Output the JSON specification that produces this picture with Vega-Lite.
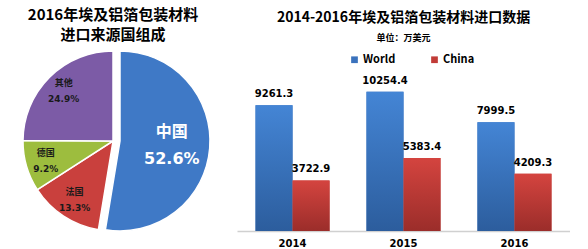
{
  "$schema": "https://vega.github.io/schema/vega-lite/v6.json",
  "padding": {"left": 0, "top": 8, "right": 0, "bottom": 0},
  "background": "white",
  "spacing": 11,
  "config": {"view": {"stroke": null}, "font": "Noto Sans CJK SC"},
  "resolve": {"scale": {"color": "independent"}, "legend": {"color": "independent"}},
  "hconcat": [
    {
      "width": 226,
      "height": 146,
      "title": {"text": ["2016年埃及铝箔包装材料", "进口来源国组成"], "fontSize": 15, "fontWeight": "bold", "lineHeight": 20, "anchor": "middle", "offset": 5, "color": "#000000", "font": "Noto Sans CJK SC"},
      "data": {"values": [
        {"country": "中国", "pct": 52.6, "label": "52.6%", "rank": 1},
        {"country": "法国", "pct": 13.3, "label": "13.3%", "rank": 2},
        {"country": "德国", "pct": 9.2, "label": "9.2%", "rank": 3},
        {"country": "其他", "pct": 24.9, "label": "24.9%", "rank": 4}
      ]},
      "encoding": {
        "theta": {"field": "pct", "type": "quantitative", "stack": true},
        "order": {"field": "rank", "type": "quantitative"}
      },
      "layer": [
        {
          "mark": {"type": "arc", "outerRadius": 90, "stroke": "white", "strokeWidth": 1.5, "xOffset": {"expr": "datum.country === '中国' ? 7 : 0"}},
          "encoding": {
            "color": {"field": "country", "type": "nominal", "scale": {"domain": ["中国", "法国", "德国", "其他"], "range": ["#3f79c6", "#c9403d", "#9dbd3e", "#7c5ba6"]}, "legend": null}
          }
        },
        {
          "mark": {"type": "text", "fontWeight": "bold", "radius": {"expr": "datum.country === '中国' ? 52 : 70"}, "dy": {"expr": "datum.country === '中国' ? -13 : -8"}, "xOffset": {"expr": "datum.country === '中国' ? 7 : 0"}},
          "encoding": {
            "text": {"field": "country"},
            "color": {"condition": {"test": "datum.country === '中国'", "value": "white"}, "value": "#1a1a1a"},
            "size": {"condition": {"test": "datum.country === '中国'", "value": 16}, "value": 9}
          }
        },
        {
          "mark": {"type": "text", "fontWeight": "bold", "font": "DejaVu Sans", "radius": {"expr": "datum.country === '中国' ? 52 : 70"}, "dy": {"expr": "datum.country === '中国' ? 14 : 8"}, "xOffset": {"expr": "datum.country === '中国' ? 7 : 0"}},
          "encoding": {
            "text": {"field": "label"},
            "color": {"condition": {"test": "datum.country === '中国'", "value": "white"}, "value": "#1a1a1a"},
            "size": {"condition": {"test": "datum.country === '中国'", "value": 16}, "value": 9}
          }
        }
      ]
    },
    {
      "width": 333,
      "height": 163,
      "title": {"text": "2014-2016年埃及铝箔包装材料进口数据", "subtitle": "单位：万美元", "fontSize": 14, "fontWeight": "bold", "subtitleFontSize": 9, "subtitleFontWeight": "bold", "subtitleColor": "#000000", "subtitlePadding": 9, "anchor": "middle", "offset": 11, "color": "#000000", "font": "Noto Sans CJK SC", "subtitleFont": "Noto Sans CJK SC"},
      "data": {"values": [
        {"year": "2014", "series": "World", "value": 9261.3},
        {"year": "2014", "series": "China", "value": 3722.9},
        {"year": "2015", "series": "World", "value": 10254.4},
        {"year": "2015", "series": "China", "value": 5383.4},
        {"year": "2016", "series": "World", "value": 7999.5},
        {"year": "2016", "series": "China", "value": 4209.3}
      ]},
      "encoding": {
        "x": {"field": "year", "type": "nominal", "scale": {"paddingInner": 0.333, "paddingOuter": 0.167}, "axis": {"title": null, "labelAngle": 0, "labelFont": "DejaVu Sans", "labelFontWeight": "bold", "labelFontSize": 10, "labelColor": "#000000", "labelPadding": 7, "ticks": false, "domainColor": "#d0d0d0", "domainWidth": 1.5}},
        "xOffset": {"field": "series", "type": "nominal", "scale": {"domain": ["World", "China"], "paddingInner": 0}},
        "y": {"field": "value", "type": "quantitative", "scale": {"domain": [0, 12000]}, "axis": null}
      },
      "layer": [
        {
          "mark": {"type": "bar"},
          "encoding": {
            "color": {"field": "series", "type": "nominal", "scale": {"domain": ["World", "China"], "range": ["#3a72bd", "#c13b37"]}, "legend": {"orient": "none", "legendX": 112, "legendY": -14, "direction": "horizontal", "title": null, "symbolType": "square", "symbolSize": 45, "labelFontSize": 11, "labelFontWeight": "bold", "labelFont": "Noto Sans CJK SC", "labelColor": "#000000", "columnPadding": 33, "symbolStrokeWidth": 0, "labelOffset": 3}}
          }
        },
        {
          "transform": [{"filter": "datum.series === 'World'"}],
          "mark": {"type": "bar", "color": {"gradient": "linear", "x1": 0, "y1": 0, "x2": 0, "y2": 1, "stops": [{"offset": 0, "color": "#4485d5"}, {"offset": 1, "color": "#2c5d9d"}]}}
        },
        {
          "transform": [{"filter": "datum.series === 'China'"}],
          "mark": {"type": "bar", "color": {"gradient": "linear", "x1": 0, "y1": 0, "x2": 0, "y2": 1, "stops": [{"offset": 0, "color": "#d4443f"}, {"offset": 1, "color": "#9b2d2a"}]}}
        },
        {
          "mark": {"type": "text", "dy": -6, "baseline": "bottom", "fontWeight": "bold", "fontSize": 10, "font": "DejaVu Sans", "color": "#000000"},
          "encoding": {"text": {"field": "value", "type": "quantitative", "format": ".1f"}}
        }
      ]
    }
  ]
}
